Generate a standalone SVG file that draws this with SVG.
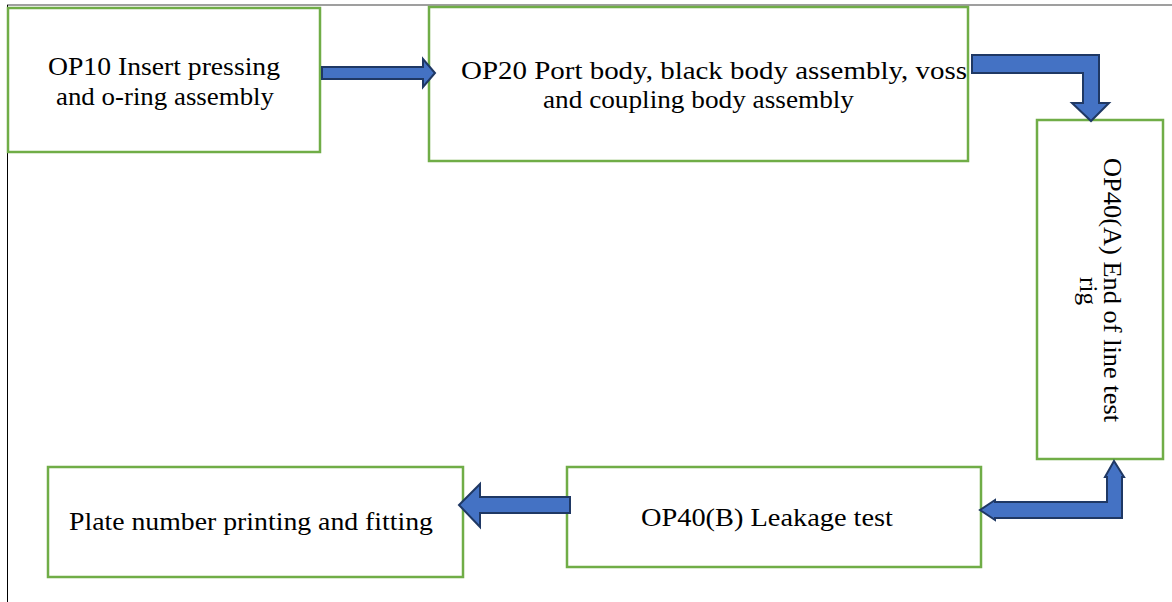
<svg xmlns="http://www.w3.org/2000/svg" width="1172" height="602" viewBox="0 0 1172 602">
<style>
.box{fill:#fff;stroke:#70AD47;stroke-width:2.5}
.arr{fill:#4472C4;stroke:#1F3864;stroke-width:2;stroke-linejoin:miter}
.t{font-family:"Liberation Serif","DejaVu Serif",serif;font-size:25px;fill:#000}
</style>
<rect x="0" y="0" width="1172" height="602" fill="#fff"/>
<line x1="7" y1="5" x2="1172" y2="5" stroke="#7f7f7f" stroke-width="1.5"/>
<line x1="7.5" y1="5" x2="7.5" y2="602" stroke="#000" stroke-width="1"/>
<g id="op10">
<rect class="box" x="8" y="8" width="312" height="144"/>
<text class="t" x="48" y="75" textLength="232" lengthAdjust="spacingAndGlyphs">OP10 Insert pressing</text>
<text class="t" x="56" y="105" textLength="218" lengthAdjust="spacingAndGlyphs">and o-ring assembly</text>
</g>
<g id="op20">
<rect class="box" x="429" y="7" width="539" height="154"/>
<text class="t" x="461" y="79" textLength="506" lengthAdjust="spacingAndGlyphs">OP20 Port body, black body assembly, voss</text>
<text class="t" x="543" y="108" textLength="311" lengthAdjust="spacingAndGlyphs">and coupling body assembly</text>
</g>
<g id="op40a">
<rect class="box" x="1037" y="120" width="126" height="339"/>
<g transform="rotate(90)">
<text class="t" x="158" y="-1104" textLength="264" lengthAdjust="spacingAndGlyphs">OP40(A) End of line test</text>
<text class="t" x="277" y="-1080" textLength="28" lengthAdjust="spacingAndGlyphs">rig</text>
</g>
</g>
<g id="op40b">
<rect class="box" x="567" y="467" width="414" height="100"/>
<text class="t" x="641" y="526" textLength="252" lengthAdjust="spacingAndGlyphs">OP40(B) Leakage test</text>
</g>
<g id="plate">
<rect class="box" x="48" y="467" width="415" height="110"/>
<text class="t" x="69" y="530" textLength="364" lengthAdjust="spacingAndGlyphs">Plate number printing and fitting</text>
</g>
<g id="connectors">
<polygon class="arr" points="322,67 423,67 423,59 435,73 423,87 423,79 322,79"/>
<polygon class="arr" points="972,55 1099,55 1099,103 1109,103 1091,121 1072,103 1083,103 1083,73 972,73"/>
<polygon class="arr" points="1114,461 1124,477 1122,477 1122,518 995,518 995,520 980,510 995,500 995,502 1107,502 1107,477 1105,477"/>
<polygon class="arr" points="570,497 480,497 480,484 459,505 480,527 480,513 570,513"/>
</g>
</svg>
